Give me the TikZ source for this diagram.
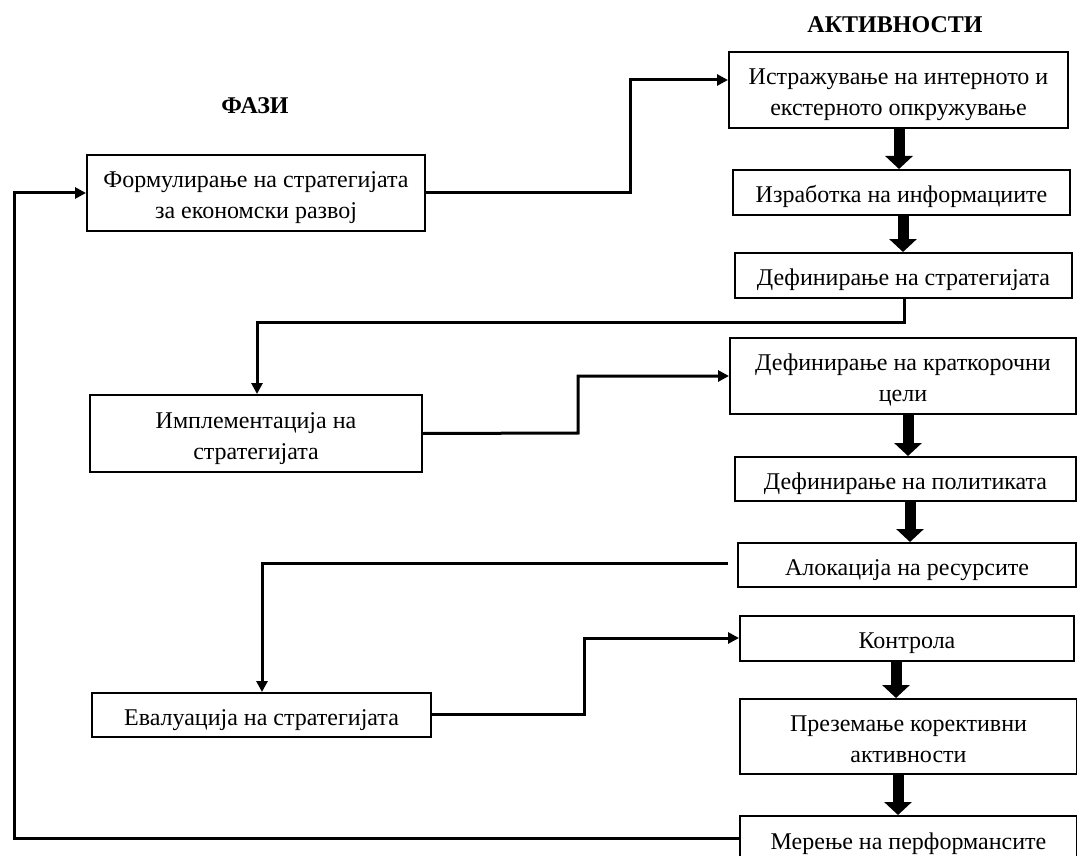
\documentclass[tikz,border=0pt]{standalone}
\usepackage{fontspec}
\setmainfont{Liberation Serif}
\usetikzlibrary{arrows.meta}

% box text: centred lines, set slightly below the geometric centre
\newcommand{\boxlines}[1]{\raisebox{-4pt}[\height][\depth]{\begin{tabular}{@{}c@{}}#1\end{tabular}}}

\begin{document}
\begin{tikzpicture}[x=1pt,y=-1pt,
  box/.style={draw=black,line width=2pt,fill=white,inner sep=0pt,align=center,
    font=\fontsize{24}{31}\selectfont},
  title/.style={font=\fontsize{24}{28}\selectfont\bfseries,inner sep=0pt},
  link/.style={line width=3pt,-{Triangle[length=11pt,width=11pt]}},
  bigarrow/.style={line width=11pt,-{Triangle[length=13pt,width=27pt]}}]

\useasboundingbox (0,0) rectangle (1077,856);

% column headings
\node[title] (hPhase) at (255,106) {ФАЗИ};
\node[title] (hAct) at (895,25) {АКТИВНОСТИ};

% phases (left column)
\node[box,minimum width=338pt,minimum height=76pt] (f1) at (256,193)
  {\boxlines{Формулирање на стратегијата\\за економски развој}};
\node[box,minimum width=332pt,minimum height=77pt] (f2) at (256,433.5)
  {\boxlines{Имплементација на\\стратегијата}};
\node[box,minimum width=339pt,minimum height=44pt] (f3) at (261.5,715)
  {\boxlines{Евалуација на стратегијата}};

% activities (right column)
\node[box,minimum width=339pt,minimum height=76pt] (a1) at (898.5,90)
  {\boxlines{Истражување на интерното и\\екстерното опкружување}};
\node[box,minimum width=337pt,minimum height=45pt] (a2) at (901.5,192.5)
  {\boxlines{Изработка на информациите}};
\node[box,minimum width=337pt,minimum height=45pt] (a3) at (903.5,275.5)
  {\boxlines{Дефинирање на стратегијата}};
\node[box,minimum width=346pt,minimum height=76pt] (a4) at (903,376)
  {\boxlines{Дефинирање на краткорочни\\цели}};
\node[box,minimum width=341pt,minimum height=44pt] (a5) at (905.5,479)
  {\boxlines{Дефинирање на политиката}};
\node[box,minimum width=338pt,minimum height=44pt] (a6) at (907,565)
  {\boxlines{Алокација на ресурсите}};
\node[box,minimum width=334pt,minimum height=45pt] (a7) at (907,638.5)
  {\boxlines{Контрола}};
\node[box,minimum width=337pt,minimum height=75pt] (a8) at (908.5,736.5)
  {\boxlines{Преземање корективни\\активности}};
\node[box,minimum width=337pt,minimum height=46pt] (a9) at (908.5,839)
  {\boxlines{Мерење на перформансите}};

% bends of the phase-to-activity connectors
\coordinate (c1) at (630,193);
\coordinate (c2) at (630,80);
\coordinate (c3) at (904,322);
\coordinate (c4) at (257,322);
\coordinate (c5) at (578,433);
\coordinate (c6) at (578,376);
\coordinate (c7) at (262,563);
\coordinate (c8) at (584,714);
\coordinate (c9) at (584,638);
\coordinate (c10) at (14,838);
\coordinate (c11) at (14,193);

% phase <-> activity connectors
\draw[link] (f1.east) -- (c1) -- (c2) -- (c2 -| a1.west);
\draw[link] (c3 |- a3.south) -- (c3) -- (c4) -- (c4 |- f2.north);
\draw[link] (f2.east) -- (c5) -- (c6) -- (a4.west);
\draw[link,shorten <=9pt] (c7 -| a6.west) -- (c7) -- (c7 |- f3.north);
\draw[link] (c8 -| f3.east) -- (c8) -- (c9) -- (c9 -| a7.west);
\draw[link] (c10 -| a9.west) -- (c10) -- (c11) -- (f1.west);

% block arrows between successive activities
\draw[bigarrow] (899,0 |- a1.south) -- (899,0 |- a2.north);
\draw[bigarrow] (903,0 |- a2.south) -- (903,0 |- a3.north);
\draw[bigarrow] (908,0 |- a4.south) -- (908,0 |- a5.north);
\draw[bigarrow] (910,0 |- a5.south) -- (910,0 |- a6.north);
\draw[bigarrow] (896,0 |- a7.south) -- (896,0 |- a8.north);
\draw[bigarrow] (898,0 |- a8.south) -- (898,0 |- a9.north);
\end{tikzpicture}
\end{document}
